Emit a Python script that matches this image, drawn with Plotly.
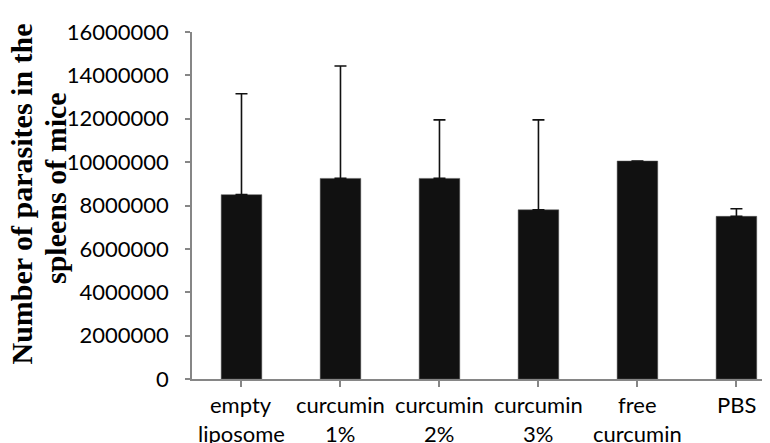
import plotly.graph_objects as go

categories_line1 = ["empty", "curcumin", "curcumin", "curcumin", "free", "PBS"]
categories_line2 = ["liposome", "1%", "2%", "3%", "curcumin", ""]
means = [8500000, 9250000, 9250000, 7800000, 10050000, 7500000]
errors_up = [4650000, 5180000, 2700000, 4150000, 0, 350000]
y_ticks = [0, 2000000, 4000000, 6000000, 8000000, 10000000, 12000000, 14000000, 16000000]
title_line1 = "Number of parasites in the"
title_line2 = "spleens of mice"

W, H = 770, 443
L, R, T, B = 184, 0, 24, 72
TICK_FONT = dict(family="Lato", size=22, color="#000000")

x_pos = list(range(len(means)))

fig = go.Figure()
fig.add_trace(go.Bar(
    x=x_pos, y=means, width=0.41,
    marker=dict(color="#111111", line=dict(color="#555555", width=0.5)),
    error_y=dict(type="data", array=errors_up, arrayminus=[0]*len(errors_up), symmetric=False,
                 color="#111111", thickness=1.6, width=6),
))

fig.update_layout(
    width=W, height=H, margin=dict(l=L, r=R, t=T, b=B),
    plot_bgcolor="white", paper_bgcolor="white", showlegend=False,
    font=TICK_FONT,
)
fig.update_xaxes(
    range=[-0.5, 5.42], tickmode="array", tickvals=x_pos, ticktext=categories_line1,
    showticklabels=False,
    showline=True, linecolor="#868686", linewidth=1.5, ticks="outside", ticklen=6, tickcolor="#868686",
    tickwidth=1.5, tickson="boundaries", showgrid=False, zeroline=False,
)
fig.update_yaxes(
    range=[0, 16000000], tickmode="array", tickvals=y_ticks, ticktext=[str(v) for v in y_ticks],
    showline=True, linecolor="#868686", linewidth=1.5, ticks="outside", ticklen=5, tickcolor="#868686",
    tickwidth=1.5, showgrid=False, zeroline=False, ticklabelstandoff=12,
)

for xi, t1, t2 in zip(x_pos, categories_line1, categories_line2):
    fig.add_annotation(text=t1, xref="x", yref="paper", x=xi, y=0, xanchor="center", yanchor="middle",
                       yshift=-25, showarrow=False, font=TICK_FONT)
    if t2:
        fig.add_annotation(text=t2, xref="x", yref="paper", x=xi, y=0, xanchor="center", yanchor="middle",
                           yshift=-54, showarrow=False, font=TICK_FONT)

plot_h = H - T - B
fig.add_annotation(text="<b>" + title_line1 + "</b>", xref="paper", yref="paper", x=0, y=(371 - 186.5) / plot_h,
                   xanchor="center", yanchor="middle", xshift=13 - L, textangle=-90, showarrow=False,
                   font=dict(family="Liberation Serif", size=30, color="#000000"))
fig.add_annotation(text="<b>" + title_line2 + "</b>", xref="paper", yref="paper", x=0, y=(371 - 180) / plot_h,
                   xanchor="center", yanchor="middle", xshift=47 - L, textangle=-90, showarrow=False,
                   font=dict(family="Liberation Serif", size=30, color="#000000"))

fig.write_html("out.html")
